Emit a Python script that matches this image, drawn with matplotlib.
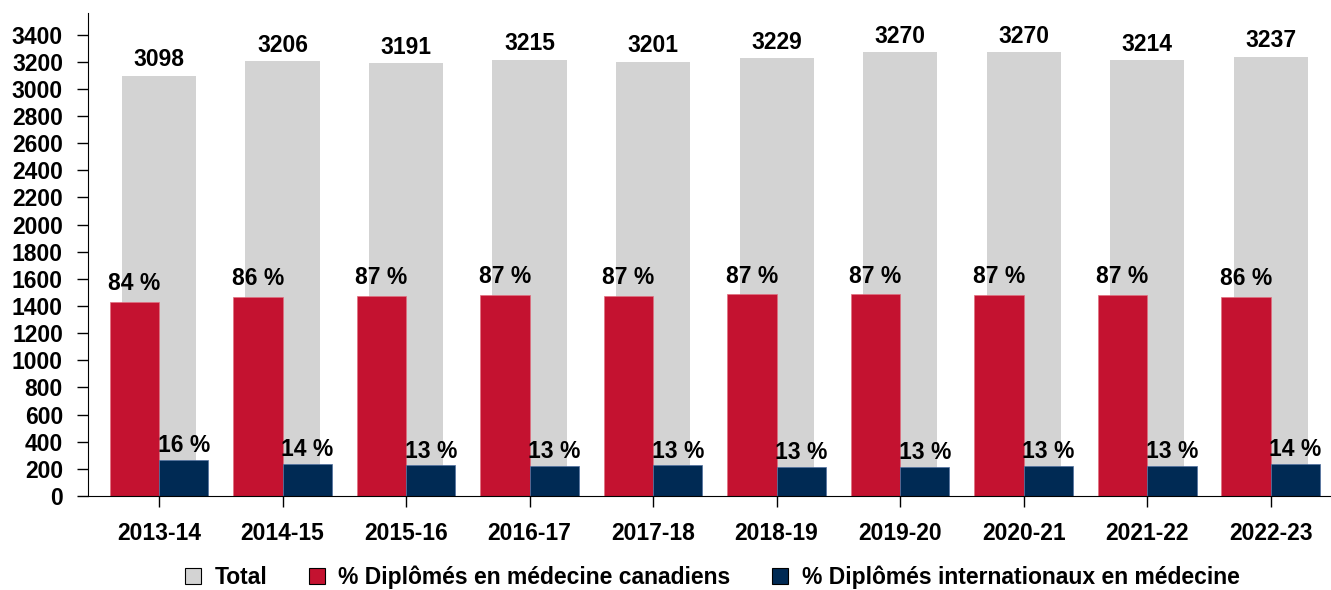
import numpy as np
import matplotlib
matplotlib.use('Agg')
import matplotlib.pyplot as plt
from matplotlib.patches import Patch

plt.rcParams['font.family'] = ['Liberation Sans', 'DejaVu Sans']
plt.rcParams['font.weight'] = 'bold'

years = ['2013-14', '2014-15', '2015-16', '2016-17', '2017-18',
         '2018-19', '2019-20', '2020-21', '2021-22', '2022-23']
total = [3098, 3206, 3191, 3215, 3201, 3229, 3270, 3270, 3214, 3237]
canadiens = [1433, 1465, 1473, 1480, 1475, 1485, 1485, 1482, 1482, 1465]
internationaux = [265, 236, 226, 221, 226, 216, 216, 221, 221, 234]
pct_can = ['84 %', '86 %', '87 %', '87 %', '87 %', '87 %', '87 %', '87 %', '87 %', '86 %']
pct_int = ['16 %', '14 %', '13 %', '13 %', '13 %', '13 %', '13 %', '13 %', '13 %', '14 %']

c_total = '#D3D3D3'
c_red = '#C41230'
c_navy = '#002A54'
fs = 16.5

x = np.arange(len(years))

fig = plt.figure(figsize=(13.31, 5.90), dpi=100)
ax = fig.add_axes([0.0661, 0.1593, 0.934, 0.819])

ax.bar(x, total, width=0.6, color=c_total, zorder=1)
ax.bar(x - 0.2, canadiens, width=0.4, color=c_red, edgecolor='#E07080', linewidth=0.5, zorder=2)
ax.bar(x + 0.2, internationaux, width=0.4, color=c_navy, edgecolor='#5070A0', linewidth=0.5, zorder=2)

for i in range(len(years)):
    ax.annotate(str(total[i]), (x[i], total[i]), xytext=(0, 3), textcoords='offset points',
                ha='center', va='bottom', fontsize=fs, fontweight='bold')
    ax.annotate(pct_can[i], (x[i] - 0.2, canadiens[i]), xytext=(0, 5), textcoords='offset points',
                ha='center', va='bottom', fontsize=fs, fontweight='bold')
    ax.annotate(pct_int[i], (x[i] + 0.2, internationaux[i]), xytext=(0, 2), textcoords='offset points',
                ha='center', va='bottom', fontsize=fs, fontweight='bold', zorder=3)

ax.set_xlim(-0.575, 9.49)
ax.set_ylim(0, 3560)
ax.set_yticks(range(0, 3401, 200))
ax.set_xticks(x)
ax.set_xticklabels(years)
ax.tick_params(axis='y', length=8, width=1, pad=10, labelsize=fs)
ax.tick_params(axis='x', length=8, width=1, pad=11, labelsize=fs)
for lbl in ax.get_xticklabels() + ax.get_yticklabels():
    lbl.set_fontweight('bold')
ax.spines['top'].set_visible(False)
ax.spines['right'].set_visible(False)

handles = [Patch(facecolor=c_total, edgecolor='black', linewidth=0.8),
           Patch(facecolor=c_red, edgecolor='black', linewidth=0.8),
           Patch(facecolor=c_navy, edgecolor='black', linewidth=0.8)]
labels = ['Total', '% Diplômés en médecine canadiens', '% Diplômés internationaux en médecine']
fig.legend(handles, labels, loc='center', bbox_to_anchor=(0.535, 0.022), ncol=3, frameon=False,
           prop={'size': fs, 'weight': 'bold'}, handlelength=0.7, handleheight=0.7,
           handletextpad=0.6, columnspacing=1.8)

fig.savefig('out.png', dpi=100)
